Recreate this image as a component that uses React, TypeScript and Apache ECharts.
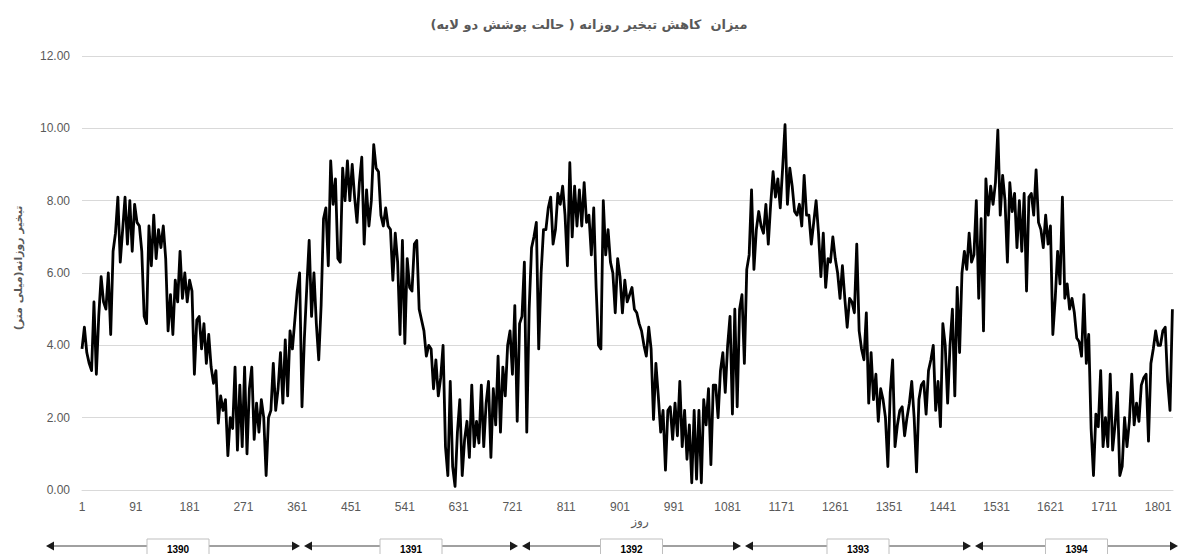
import React, { useEffect, useRef } from 'react';
import * as echarts from 'echarts';

const TITLE = 'میزان  کاهش تبخیر روزانه ( حالت پوشش دو لایه)';
const Y_NAME = 'تبخیر روزانه(میلی متر)';
const X_NAME = 'روز';
const TOTAL_DAYS = 1826;
const READING_STEP = 4; // one reading every 4 days, starting at day 1
const LABEL_EVERY = 90;
const yearNames = ['1390', '1391', '1392', '1393', '1394'];

// daily evaporation reduction (mm), every 4 days
const y1390 = [
  3.9, 4.5, 3.8, 3.5, 3.3, 5.2, 3.2, 4.8, 5.9, 5.2,
  5.0, 6.0, 4.3, 6.6, 7.1, 8.1, 6.3, 7.2, 8.1, 6.8,
  8.0, 6.6, 7.9, 7.4, 7.3, 6.6, 4.8, 4.6, 7.3, 6.2,
  7.6, 6.4, 7.2, 6.7, 7.3, 6.4, 4.4, 5.4, 4.3, 5.8,
  5.2, 6.6, 5.3, 6.0, 5.2, 5.8, 5.5, 3.2,
  4.7, 4.8, 3.9, 4.6, 3.5, 4.3, 3.4, 2.95, 3.3, 1.85,
  2.6, 2.2, 2.5, 0.95, 2.0, 1.7, 3.4, 1.1, 2.9, 1.2,
  3.4, 1.0, 2.8, 3.4, 1.4, 2.4, 1.6, 2.5, 2.0, 0.4,
  2.0, 2.2, 3.5, 2.2, 2.8, 3.8, 2.4, 4.15, 2.6, 4.4,
  3.9, 4.7, 5.5, 6.0,
];
const y1391 = [
  2.3, 4.2, 5.6, 6.9, 4.8, 6.0, 4.6, 3.6, 5.1, 7.5,
  7.8, 6.2, 9.1, 7.9, 8.6, 6.4, 6.3, 8.9, 8.0, 9.1,
  8.0, 9.0, 8.1, 7.4, 8.5, 9.2, 6.8, 8.3, 7.3, 8.0,
  9.55, 8.9, 8.8, 7.6, 7.3, 7.8, 7.3, 7.2, 5.8, 7.1,
  6.3, 4.3, 6.9, 4.05, 6.4, 5.6, 5.5, 6.8,
  6.9, 5.0, 4.7, 4.4, 3.7, 4.0, 3.9, 2.8, 3.6, 2.6,
  3.1, 4.0, 1.2, 0.4, 3.0, 0.65, 0.1, 1.6, 2.5, 0.4,
  1.4, 1.9, 0.9, 2.9, 1.2, 1.9, 1.3, 2.9, 1.2, 2.4,
  3.0, 0.9, 2.8, 1.8, 3.7, 1.6, 3.4, 2.6, 4.0, 4.4,
  3.2, 5.1, 1.9,
];
const y1392 = [
  4.6, 4.8, 6.3, 1.6, 5.0, 6.7, 7.0, 7.4, 3.9, 6.0,
  7.2, 7.2, 7.8, 8.1, 6.8, 7.2, 8.2, 7.9, 8.4, 7.6,
  6.2, 9.05, 7.0, 8.4, 7.3, 8.3, 7.3, 8.5, 7.4, 7.6,
  6.5, 7.8, 5.6, 4.0, 3.9, 8.0, 6.5, 7.2, 6.3, 6.0,
  4.9, 6.4, 5.9, 4.9, 5.8, 5.2, 5.4, 5.6, 5.0,
  4.9, 4.6, 4.4, 4.0, 3.7, 4.5, 3.9, 1.95, 3.5, 2.6,
  1.6, 2.2, 0.55, 2.2, 2.3, 1.4, 2.4, 1.5, 3.0, 1.2,
  2.2, 0.85, 1.8, 0.2, 2.2, 0.3, 2.2, 0.2, 2.5, 1.8,
  2.8, 0.7, 2.9, 2.9, 2.0, 3.3, 3.8, 2.7, 4.0, 4.8,
  2.1, 5.0,
];
const y1393 = [
  2.3,
  5.0, 5.4, 3.5, 6.1, 6.5, 8.3, 6.1, 7.2, 7.7, 7.3,
  7.1, 7.9, 6.8, 7.9, 8.8, 8.1, 8.6, 7.8, 8.9, 10.1,
  7.9, 8.9, 8.4, 7.7, 7.6, 7.9, 7.3, 8.7, 7.6, 7.6,
  6.8, 7.4, 8.0, 7.1, 5.9, 7.1, 5.6, 6.4, 6.3, 7.0,
  6.4, 6.0, 5.3, 6.2, 5.3, 4.5, 5.3,
  5.2, 4.9, 6.8, 4.4, 3.9, 3.6, 4.9, 2.4, 3.8, 2.5,
  3.2, 1.9, 2.8, 2.5, 2.0, 0.65, 2.7, 3.6, 1.2, 1.8,
  2.2, 2.3, 1.5, 2.0, 2.4, 3.0, 2.0, 0.5, 2.5, 2.9,
  3.0, 2.1, 3.3, 3.6, 4.0, 2.2, 3.0, 1.75, 4.6, 4.0,
  2.4, 4.0, 5.0, 2.6,
];
const y1394 = [
  5.6, 3.8, 6.0, 6.6, 6.1, 7.1, 6.3, 6.5, 8.0, 5.3,
  7.5, 4.4, 8.6, 7.6, 8.4, 7.9, 8.5, 9.95, 7.6, 8.7,
  8.0,
  6.3, 8.5, 7.7, 8.2, 6.7, 8.0, 6.6, 8.2, 5.5, 8.1,
  8.2, 7.6, 8.85, 7.4, 7.2, 6.7, 7.6, 6.8, 7.3, 4.3,
  5.3, 6.6, 5.7, 8.1, 5.3, 5.7, 5.0, 5.3, 4.9, 4.2,
  4.1, 3.7, 5.4, 3.5, 4.3, 1.7, 0.4, 2.1, 1.75, 3.3,
  1.2, 2.0, 1.2, 3.2, 1.1, 1.8, 2.7, 0.4, 0.65, 2.0,
  1.2, 1.9, 3.2, 1.8, 2.4, 1.9, 2.9, 3.1, 3.2, 1.35,
  3.5, 3.9, 4.4, 4.0, 4.0, 4.4, 4.5, 3.0, 2.2, 5.0,
];

const TEXT_COLOR = '#595959';
const GRID_COLOR = '#d9d9d9';

// hand-drawn year brackets under the axis (layout, not data)
const bracketX = [[46, 300], [304, 518], [522, 741], [745, 971], [975, 1178]];
const bracketY = 546;

export default function App() {
  const ref = useRef<HTMLDivElement>(null);
  useEffect(() => {
    if (!ref.current) return;
    const chart = echarts.init(ref.current, null, { renderer: 'svg' });
    const values = [...y1390, ...y1391, ...y1392, ...y1393, ...y1394];
    const days = Array.from({ length: TOTAL_DAYS }, (_, i) => String(i + 1));
    const data = values.map((v, i) => [i * READING_STEP, v]);

    const graphics: any[] = [];
    yearNames.forEach((name, k) => {
      const [x1, x2] = bracketX[k];
      graphics.push({
        type: 'line', silent: true,
        shape: { x1: x1 + 4, y1: bracketY, x2: x2 - 4, y2: bracketY },
        style: { stroke: '#808080', lineWidth: 1.5 },
      });
      graphics.push({
        type: 'polygon', silent: true,
        shape: { points: [[x1, bracketY], [x1 + 8, bracketY - 4.5], [x1 + 8, bracketY + 4.5]] },
        style: { fill: '#1a1a1a' },
      });
      graphics.push({
        type: 'polygon', silent: true,
        shape: { points: [[x2, bracketY], [x2 - 8, bracketY - 4.5], [x2 - 8, bracketY + 4.5]] },
        style: { fill: '#1a1a1a' },
      });
      const cx = k === 0 ? 178 : (x1 + x2) / 2;
      graphics.push({
        type: 'rect', silent: true,
        shape: { x: cx - 31, y: 539, width: 62, height: 18 },
        style: { fill: '#ffffff', stroke: '#bfbfbf', lineWidth: 1 },
      });
      graphics.push({
        type: 'text', silent: true,
        x: cx, y: 549,
        style: {
          text: name, fill: '#000', font: 'bold 10px "Liberation Sans Narrow", "Liberation Sans", sans-serif',
          textAlign: 'center', textVerticalAlign: 'middle',
        },
      });
    });
    graphics.push({
      type: 'text', silent: true, x: 640, y: 521,
      style: {
        text: X_NAME, fill: TEXT_COLOR, font: '12px "DejaVu Sans", sans-serif',
        textAlign: 'center', textVerticalAlign: 'middle',
      },
    });
    graphics.push({
      type: 'text', silent: true, x: 18, y: 268, rotation: Math.PI / 2,
      style: {
        text: Y_NAME, fill: TEXT_COLOR, font: 'bold 11px "DejaVu Sans", sans-serif',
        textAlign: 'center', textVerticalAlign: 'middle',
      },
    });

    chart.setOption({
      animation: false,
      backgroundColor: '#ffffff',
      title: {
        text: TITLE, left: 'center', top: 13,
        textStyle: { fontSize: 13, fontWeight: 'bold', color: TEXT_COLOR, fontFamily: '"DejaVu Sans", sans-serif' },
      },
      grid: { left: 82, right: 5, top: 56, bottom: 64 },
      xAxis: {
        type: 'category', data: days, boundaryGap: false,
        axisLine: { show: true, lineStyle: { color: GRID_COLOR, width: 1 } },
        axisTick: { show: false },
        axisLabel: {
          interval: LABEL_EVERY - 1, color: TEXT_COLOR, fontSize: 12, margin: 11,
          fontFamily: '"Liberation Sans Narrow", "Liberation Sans", sans-serif',
        },
        splitLine: { show: false },
      },
      yAxis: {
        type: 'value', min: 0, max: 12, interval: 2,
        axisLine: { show: false }, axisTick: { show: false },
        axisLabel: {
          formatter: (v: number) => v.toFixed(2), color: TEXT_COLOR, fontSize: 12, margin: 12,
          fontFamily: '"Liberation Sans Narrow", "Liberation Sans", sans-serif',
        },
        splitLine: { lineStyle: { color: GRID_COLOR, width: 1 } },
      },
      series: [{
        type: 'line', data, showSymbol: false, symbol: 'none',
        lineStyle: { color: '#000000', width: 2.8, join: 'round' },
        itemStyle: { color: '#000000' },
      }],
      graphic: graphics,
    });
    return () => chart.dispose();
  }, []);
  return (
    <div
      ref={ref}
      style={{ position: 'fixed', left: 0, top: 0, width: 1178, height: 554, background: '#fff' }}
    />
  );
}
